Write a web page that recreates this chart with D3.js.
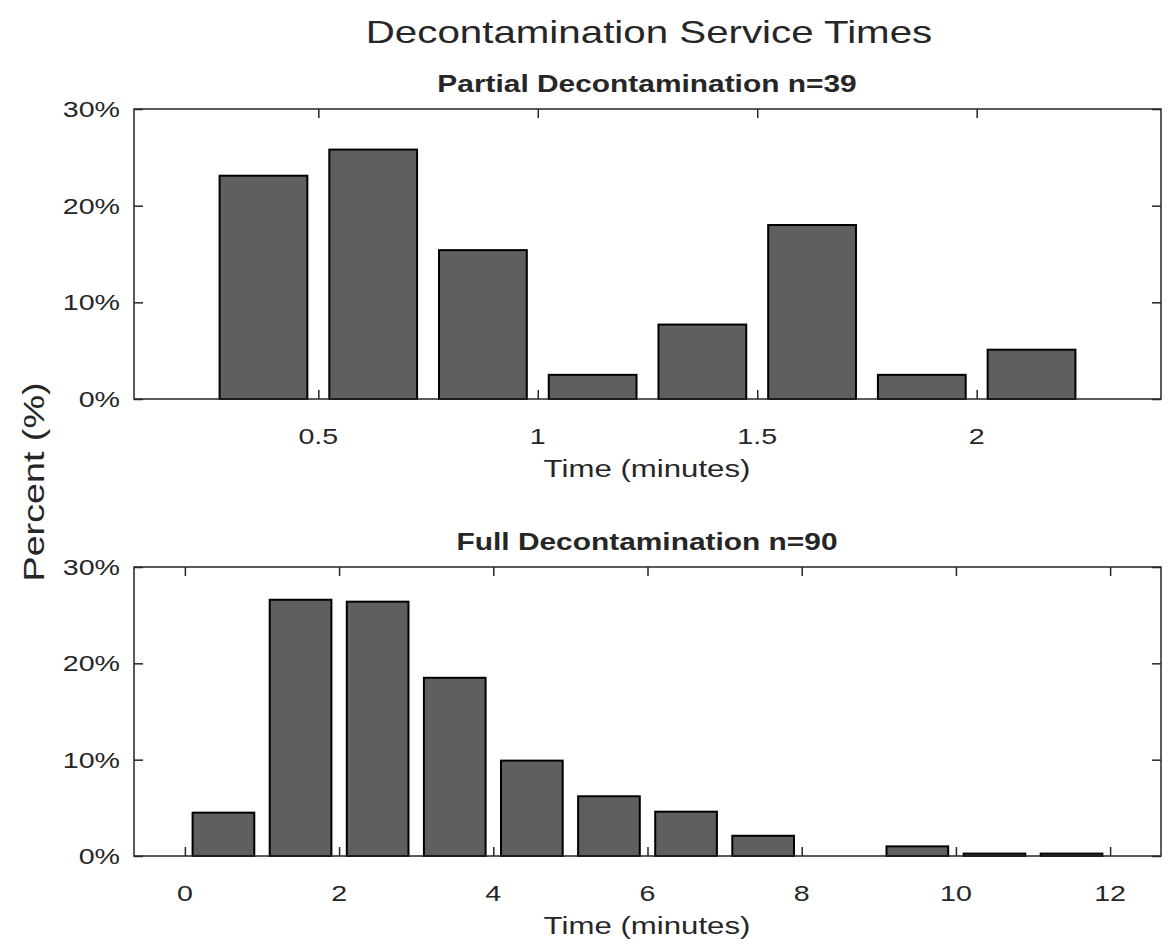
<!DOCTYPE html>
<html>
<head>
<meta charset="utf-8">
<script src="https://cdn.jsdelivr.net/npm/d3@7"></script>
<style>
  body { margin: 0; background: #fff; }
  text { font-family: "Liberation Sans", Arial, sans-serif; fill: #262626; }
</style>
</head>
<body>
<svg id="chart"></svg>
<script>
// bin centres (minutes) and percent of each bin
let partialCenters = [0.375, 0.625, 0.875, 1.125, 1.375, 1.625, 1.875, 2.125];
let partialPct = [23.1, 25.8, 15.4, 2.5, 7.7, 18.0, 2.5, 5.1];
let partialBin = 0.25;
let partialTicks = [0.5, 1, 1.5, 2];

let fullCenters = [0.5, 1.5, 2.5, 3.5, 4.5, 5.5, 6.5, 7.5, 8.5, 9.5, 10.5, 11.5];
let fullPct = [4.5, 26.6, 26.4, 18.5, 9.9, 6.2, 4.6, 2.1, 0, 1.0, 0.25, 0.25];
let fullBin = 1;
let fullTicks = [0, 2, 4, 6, 8, 10, 12];

let yTicks = [0, 10, 20, 30];

let width = 1168, height = 948;
let sx = 1.3; // reference text is drawn wide

let svg = d3.select("#chart")
    .attr("width", width)
    .attr("height", height);

function label(x, y, str, size, anchor, weight, rot) {
    let t = "translate(" + x + "," + y + ")";
    if (rot) t += " rotate(" + rot + ")";
    t += " scale(" + sx + ",1)";
    return svg.append("text")
        .attr("transform", t)
        .attr("text-anchor", anchor)
        .attr("font-size", size)
        .attr("font-weight", weight || "normal")
        .text(str);
}

function panel(cfg) {
    let x = d3.scaleLinear().domain(cfg.xDomain).range([134, 1161]);
    let y = d3.scaleLinear().domain([0, 30]).range([cfg.bottom, cfg.top]);
    let g = svg.append("g");

    // bars
    g.selectAll("rect.bar")
        .data(cfg.centers)
        .enter().append("rect")
        .attr("class", "bar")
        .attr("x", function (d) { return x(d - cfg.bin * 0.4); })
        .attr("width", function (d) { return x(d + cfg.bin * 0.4) - x(d - cfg.bin * 0.4); })
        .attr("y", function (d, i) { return y(cfg.pct[i]); })
        .attr("height", function (d, i) { return y(0) - y(cfg.pct[i]); })
        .style("fill", "#5f5f5f")
        .style("stroke", "#000")
        .style("stroke-width", 2)
        .style("display", function (d, i) { return cfg.pct[i] > 0 ? null : "none"; });

    // box
    g.append("rect")
        .attr("x", x.range()[0])
        .attr("y", cfg.top)
        .attr("width", x.range()[1] - x.range()[0])
        .attr("height", cfg.bottom - cfg.top)
        .style("fill", "none")
        .style("stroke", "#262626")
        .style("stroke-width", 1.5);

    // inward ticks, all four sides
    let tk = 9;
    g.append("g")
        .attr("transform", "translate(0," + cfg.bottom + ")")
        .call(d3.axisBottom(x).tickValues(cfg.ticks).tickSize(-tk).tickFormat(""))
        .call(function (a) { a.select(".domain").remove(); });
    g.append("g")
        .attr("transform", "translate(0," + cfg.top + ")")
        .call(d3.axisTop(x).tickValues(cfg.ticks).tickSize(-tk).tickFormat(""))
        .call(function (a) { a.select(".domain").remove(); });
    g.append("g")
        .attr("transform", "translate(134,0)")
        .call(d3.axisLeft(y).tickValues(yTicks).tickSize(-tk).tickFormat(""))
        .call(function (a) { a.select(".domain").remove(); });
    g.append("g")
        .attr("transform", "translate(1161,0)")
        .call(d3.axisRight(y).tickValues(yTicks).tickSize(-tk).tickFormat(""))
        .call(function (a) { a.select(".domain").remove(); });
    g.selectAll(".tick line").style("stroke", "#262626").style("stroke-width", 1.5);

    // tick labels
    cfg.ticks.forEach(function (v) {
        label(x(v), cfg.bottom + 45, String(v), 22, "middle");
    });
    yTicks.forEach(function (v) {
        label(120, y(v) + 8, v + "%", 22, "end");
    });

    label(647, cfg.top - 17, cfg.title, 23, "middle", "bold");
    label(647, cfg.bottom + 78, "Time (minutes)", 24, "middle");
}

label(649, 43, "Decontamination Service Times", 31, "middle");

panel({
    xDomain: [0.08, 2.42], top: 109, bottom: 399,
    centers: partialCenters, pct: partialPct, bin: partialBin, ticks: partialTicks,
    title: "Partial Decontamination n=39"
});
panel({
    xDomain: [-0.66, 12.66], top: 567, bottom: 856,
    centers: fullCenters, pct: fullPct, bin: fullBin, ticks: fullTicks,
    title: "Full Decontamination n=90"
});

label(44, 482, "Percent (%)", 29, "middle", "normal", -90);
</script>
</body>
</html>
